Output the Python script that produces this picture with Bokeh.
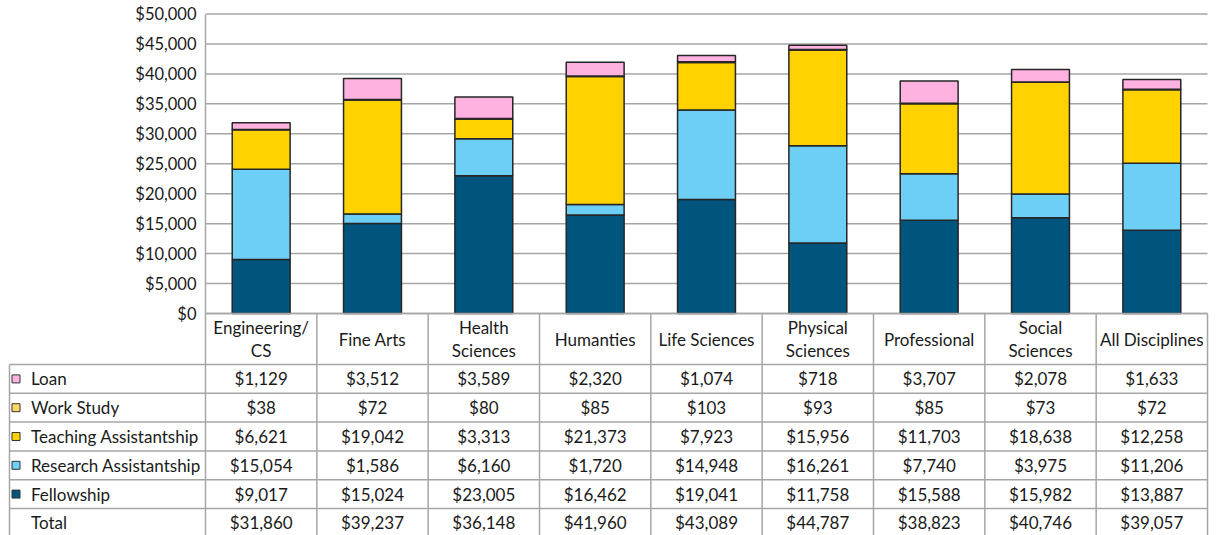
from bokeh.plotting import figure
from bokeh.models import Range1d, LinearAxis, FixedTicker, NumeralTickFormatter, ColumnDataSource
from bokeh.core.properties import value
from bokeh.embed import file_html
from bokeh.resources import INLINE

# ---------------- data ----------------
categories = ["Engineering/\nCS", "Fine Arts", "Health\nSciences", "Humanties",
              "Life Sciences", "Physical\nSciences", "Professional",
              "Social\nSciences", "All Disciplines"]
fellowship = [9017, 15024, 23005, 16462, 19041, 11758, 15588, 15982, 13887]
research = [15054, 1586, 6160, 1720, 14948, 16261, 7740, 3975, 11206]
teaching = [6621, 19042, 3313, 21373, 7923, 15956, 11703, 18638, 12258]
work_study = [38, 72, 80, 85, 103, 93, 85, 73, 72]
loan = [1129, 3512, 3589, 2320, 1074, 718, 3707, 2078, 1633]
totals = [31860, 39237, 36148, 41960, 43089, 44787, 38823, 40746, 39057]
series_names = ["Fellowship", "Research Assistantship", "Teaching Assistantship",
                "Work Study", "Loan"]
series_colors = ["#00557f", "#6ecff6", "#ffd200", "#ffd966", "#ffb1df"]
y_ticks = [0, 5000, 10000, 15000, 20000, 25000, 30000, 35000, 40000, 45000, 50000]

# ---------------- layout constants ----------------
W, H = 1216, 535
FONT = "Lato"
FS = "17px"
TXT = "#1a1a1a"
GRID = "#a6a6a6"
n = len(categories)
left_px = 205.0                     # canvas x of first column boundary
right_px = 1207.0
col_px = (right_px - left_px) / n   # width of a column in pixels
zero_px = 313.0                     # canvas y of $0
top_px = 13.5                       # canvas y of $50,000
ppd = (zero_px - top_px) / y_ticks[-1]

x_range = Range1d(-left_px / col_px, (W - left_px) / col_px)
y_range = Range1d(-(H - zero_px) / ppd, y_ticks[-1] + top_px / ppd)

p = figure(width=W, height=H, x_range=x_range, y_range=y_range,
           x_axis_location=None, y_axis_location=None,
           output_backend="svg", toolbar_location=None, min_border=0)
p.outline_line_color = None
p.grid.visible = False
p.extra_y_ranges = {"tbl": Range1d(start=H, end=0)}

# ---------------- y axis ----------------
yaxis = LinearAxis(fixed_location=0, bounds=(0, y_ticks[-1]),
                   ticker=FixedTicker(ticks=y_ticks),
                   formatter=NumeralTickFormatter(format="$0,0"))
yaxis.axis_line_color = GRID
yaxis.axis_line_width = 1.5
yaxis.major_tick_in = 0
yaxis.major_tick_out = 0
yaxis.minor_tick_in = 0
yaxis.minor_tick_out = 0
yaxis.major_label_standoff = 9
yaxis.major_label_text_font = FONT
yaxis.major_label_text_font_size = "16.5px"
yaxis.major_label_text_color = TXT
p.add_layout(yaxis, "left")

# gridlines across the plot columns only
p.segment(x0=[0] * len(y_ticks), x1=[n] * len(y_ticks), y0=y_ticks, y1=y_ticks,
          line_color=GRID, line_width=1.5)

# ---------------- stacked bars ----------------
xs = [i + 0.5 for i in range(n)]
src = ColumnDataSource(dict(x=xs, Fellowship=fellowship,
                            **{"Research Assistantship": research,
                               "Teaching Assistantship": teaching,
                               "Work Study": work_study, "Loan": loan}))
p.vbar_stack(series_names, x="x", width=0.52, fill_color=series_colors,
             line_color="#262626", line_width=1.5, source=src)

# ---------------- data table ----------------
head_top = zero_px
head_bot = 364.0
row_h = 28.8
rows_labels = ["Loan", "Work Study", "Teaching Assistantship",
               "Research Assistantship", "Fellowship", "Total"]
rows_values = [loan, work_study, teaching, research, fellowship, totals]
rows_colors = ["#ffb1df", "#ffd966", "#ffd200", "#6ecff6", "#00557f", None]
row_edges = [head_bot + k * row_h for k in range(len(rows_labels) + 1)]
tbl_left = (9 - left_px) / col_px

# horizontal lines
hx0 = [0.0] + [tbl_left] * (len(row_edges) - 1)
hx1 = [n] * len(row_edges)
hy = [head_top] + row_edges[:-1]
p.segment(x0=hx0, x1=hx1, y0=hy, y1=hy, line_color=GRID, line_width=1.5,
          y_range_name="tbl")
# vertical lines
vx = list(range(n + 1)) + [tbl_left]
vy0 = [head_top] * (n + 1) + [head_bot]
vy1 = [H] * (n + 2)
p.segment(x0=vx, x1=vx, y0=vy0, y1=vy1, line_color=GRID, line_width=1.5,
          y_range_name="tbl")

# header texts
p.text(x=xs, y=[(head_top + head_bot) / 2] * n, text=categories,
       text_font=value(FONT), text_font_size=FS, text_color=TXT,
       text_align="center", text_baseline="middle", text_line_height=1.12,
       y_range_name="tbl")

# row labels, swatches, values
row_mid = [(row_edges[k] + row_edges[k + 1]) / 2 for k in range(len(rows_labels))]
sw_x = (15.5 - left_px) / col_px
lab_x = (30.5 - left_px) / col_px
p.scatter(x=[sw_x] * 5, y=row_mid[:5], marker="square", size=8,
          fill_color=rows_colors[:5], line_color="#333333", line_width=1,
          y_range_name="tbl")
p.text(x=[lab_x] * len(rows_labels), y=row_mid, text=rows_labels,
       text_font=value(FONT), text_font_size=FS, text_color=TXT,
       text_align="left", text_baseline="middle", y_range_name="tbl")
cell_x, cell_y, cell_t = [], [], []
for k, vals in enumerate(rows_values):
    for i, v in enumerate(vals):
        cell_x.append(xs[i])
        cell_y.append(row_mid[k])
        cell_t.append(f"${v:,}")
p.text(x=cell_x, y=cell_y, text=cell_t, text_font=value(FONT), text_font_size=FS,
       text_color=TXT, text_align="center", text_baseline="middle",
       y_range_name="tbl")

open("out.html", "w").write(file_html(p, INLINE))
